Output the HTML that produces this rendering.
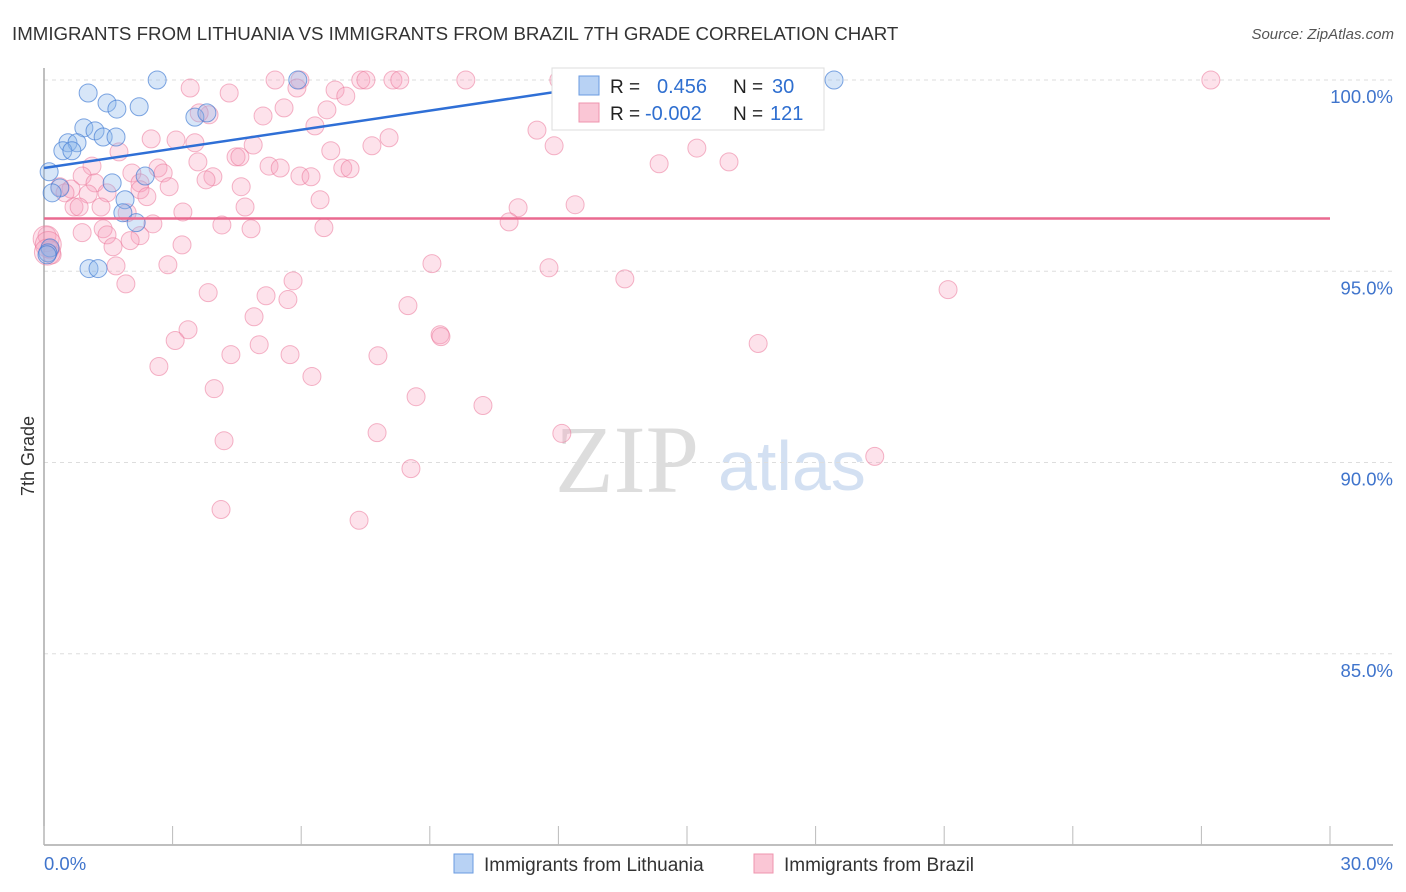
<!DOCTYPE html>
<html><head><meta charset="utf-8"><style>
body{margin:0;background:#fff;font-family:"Liberation Sans",sans-serif;}
svg{display:block}
</style></head><body>
<svg id="chart" width="1406" height="892">
<text x="12" y="40" font-size="18.7" fill="#333">IMMIGRANTS FROM LITHUANIA VS IMMIGRANTS FROM BRAZIL 7TH GRADE CORRELATION CHART</text>
<text x="1394" y="39" font-size="15" fill="#555" text-anchor="end" font-style="italic">Source: ZipAtlas.com</text>
<text x="555" y="492" font-size="96" fill="#ddd" font-family="Liberation Serif,serif">ZIP</text>
<text x="718" y="490" font-size="70" fill="#d3e0f2">atlas</text>
<text x="34" y="456" font-size="18" fill="#333" transform="rotate(-90 34 456)" text-anchor="middle">7th Grade</text>
<g id="grid"></g><g id="axes"></g><g id="pts"></g><g id="trend"></g>
<g>
<rect x="552" y="68" width="272" height="62" fill="#fff" stroke="#ddd"/>
<rect x="579" y="76" width="20" height="19" fill="#b8d2f4" stroke="#6a9be0"/>
<rect x="579" y="103" width="20" height="19" fill="#fac6d5" stroke="#ef94ae"/>
<text x="610" y="93" font-size="19" fill="#222">R = </text><text x="657" y="93" font-size="20" fill="#2f6fd0">0.456</text>
<text x="733" y="93" font-size="19" fill="#222">N = </text><text x="772" y="93" font-size="20" fill="#2f6fd0">30</text>
<text x="610" y="120" font-size="19" fill="#222">R = </text><text x="645" y="120" font-size="20" fill="#2f6fd0">-0.002</text>
<text x="733" y="120" font-size="19" fill="#222">N = </text><text x="770" y="120" font-size="20" fill="#2f6fd0">121</text>
</g>
<g>
<rect x="454" y="854" width="19" height="19" fill="#b8d2f4" stroke="#6a9be0"/>
<text x="484" y="871" font-size="19" fill="#333">Immigrants from Lithuania</text>
<rect x="754" y="854" width="19" height="19" fill="#fac6d5" stroke="#ef94ae"/>
<text x="784" y="871" font-size="19" fill="#333">Immigrants from Brazil</text>
</g>
</svg>
<script>
const xTicks=[0,3,6,9,12,15,18,21,24,27,30];
const yTicks=[100,95,90,85];
const yTickLabels=["100.0%","95.0%","90.0%","85.0%"];
const xAxisLabels=["0.0%","30.0%"];
const ltX=[2.64,5.92,18.43,1.03,1.47,1.70,2.22,3.52,3.80,0.93,1.19,1.38,1.68,0.56,0.77,0.44,0.65,0.12,2.36,1.59,0.37,0.19,1.89,1.84,2.15,1.05,1.26,0.14,0.09,0.07];
const ltY=[100,100,100,99.66,99.40,99.24,99.30,99.03,99.14,98.75,98.67,98.51,98.51,98.36,98.36,98.15,98.15,97.60,97.49,97.31,97.18,97.05,96.87,96.53,96.27,95.07,95.07,95.61,95.48,95.43];
const brX=[5.39,5.97,7.39,7.51,8.14,8.30,9.84,12.01,13.37,13.95,16.24,27.22,3.41,5.90,6.79,4.32,7.04,5.60,6.60,5.11,3.85,3.62,6.32,11.50,8.05,2.50,3.08,3.52,7.65,11.90,4.88,15.23,1.75,6.69,4.48,4.57,15.98,14.35,3.59,5.25,5.51,6.97,7.14,1.12,2.66,5.97,6.23,2.78,3.94,3.78,2.05,0.89,2.24,2.92,4.60,1.19,0.37,0.63,0.49,1.03,1.47,2.24,2.40,1.33,6.44,0.70,0.82,1.94,3.24,4.69,11.06,12.39,10.85,4.15,4.83,2.54,6.53,0.89,1.38,1.47,2.24,2.01,1.61,3.22,0.07,0.14,0.19,1.68,2.89,9.05,11.78,1.91,5.81,13.55,21.09,3.83,5.18,5.69,8.49,4.90,3.36,3.06,9.24,9.26,5.02,4.36,5.74,7.79,16.66,2.68,6.25,3.97,8.68,10.24,7.77,4.20,12.08,19.38,8.56,4.13,7.35,0.05,0.1,0.08];
const brY=[100,100,100,100,100,100,100,100,100,100,100,100,99.79,99.79,99.74,99.66,99.58,99.27,99.22,99.06,99.09,99.14,98.80,98.69,98.49,98.46,98.43,98.36,98.28,98.28,98.30,98.22,98.12,98.15,97.99,97.99,97.86,97.81,97.86,97.75,97.70,97.70,97.68,97.75,97.70,97.49,97.47,97.57,97.47,97.39,97.57,97.49,97.31,97.21,97.21,97.31,97.21,97.15,97.05,97.02,97.05,97.13,96.95,96.68,96.87,96.68,96.68,96.53,96.55,96.68,96.66,96.74,96.29,96.21,96.11,96.24,96.14,96.01,96.11,95.95,95.93,95.80,95.64,95.69,95.93,95.56,95.43,95.14,95.17,95.20,95.09,94.67,94.75,94.80,94.52,94.44,94.36,94.26,94.10,93.81,93.47,93.19,93.34,93.29,93.08,92.82,92.82,92.79,93.11,92.51,92.25,91.93,91.72,91.49,90.78,90.57,90.76,90.16,89.84,88.77,88.49,95.85,95.70,95.50];
const ltTrendX=[0,13.8], ltTrendY=[97.70,100];
const brTrendX=[0,30], brTrendY=[96.38,96.38];
const L=44,R=1330,T=80,B=845;
const xs=v=>L+(v-0)/30*(R-L);
const ys=v=>T+(100-v)/20*(B-T);
const NS="http://www.w3.org/2000/svg";
function mk(tag,attrs,parent){const e=document.createElementNS(NS,tag);for(const k in attrs)e.setAttribute(k,attrs[k]);document.getElementById(parent).appendChild(e);return e;}
yTicks.forEach((t,i)=>{
 const g=mk('line',{x1:L,x2:1393,y1:ys(t),y2:ys(t),stroke:'#ddd','stroke-dasharray':'4,4'},'grid');
 
 
 const tx=mk('text',{x:1393,y:ys(t)+23,'font-size':18.5,fill:'#3f74cc','text-anchor':'end'},'grid');
 tx.textContent=yTickLabels[i];
 
 
});
const ax=mk('line',{x1:L,x2:1393,y1:B,y2:B,stroke:'#aaa','stroke-width':1.5},'axes');


const ay=mk('line',{x1:L,x2:L,y1:68,y2:B,stroke:'#aaa','stroke-width':1.5},'axes');


xTicks.forEach(t=>{
 const l=mk('line',{x1:xs(t),x2:xs(t),y1:826,y2:B,stroke:'#bbb'},'axes');
 
 
});
[[0,'start',44],[30,'end',1393]].forEach((p,i)=>{
 const tx=mk('text',{x:p[2],y:870,'font-size':18.5,fill:'#3f74cc','text-anchor':p[1]},'axes');
 tx.textContent=xAxisLabels[i];
 
 
});
brX.forEach((x,i)=>{
 const c=mk('circle',{cx:xs(x),cy:ys(brY[i]),r:i>=121?13:9,fill:'rgba(247,160,188,0.3)',stroke:'rgba(235,120,155,0.55)','stroke-width':1},'pts');
 
 
});
ltX.forEach((x,i)=>{
 const c=mk('circle',{cx:xs(x),cy:ys(ltY[i]),r:9,fill:'rgba(140,182,236,0.35)',stroke:'rgba(60,120,210,0.65)','stroke-width':1},'pts');
 
 
});
const t1=mk('line',{x1:xs(ltTrendX[0]),y1:ys(ltTrendY[0]),x2:xs(ltTrendX[1]),y2:ys(ltTrendY[1]),stroke:'#2f6fd6','stroke-width':2.5},'trend');


const t2=mk('line',{x1:xs(brTrendX[0]),y1:ys(brTrendY[0]),x2:xs(brTrendX[1]),y2:ys(brTrendY[1]),stroke:'#ea6a90','stroke-width':2.5},'trend');


</script>
</body></html>
